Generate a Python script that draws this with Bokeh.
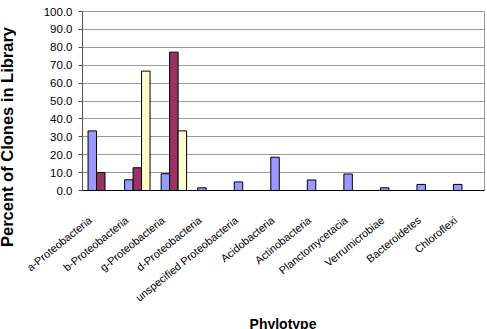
from math import radians

import numpy as np
from bokeh.embed import file_html
from bokeh.resources import INLINE
from bokeh.plotting import figure
from bokeh.layouts import row, column
from bokeh.models import (ColumnDataSource, Range1d, FixedTicker,
                          NumeralTickFormatter, Div)
from bokeh.transform import dodge

# Phylotype categories and percent of clones per library
phylotypes = ["a-Proteobacteria", "b-Proteobacteria", "g-Proteobacteria",
              "d-Proteobacteria", "unspecified Proteobacteria", "Acidobacteria",
              "Actinobacteria", "Planctomycetacia", "Verrumicrobiae",
              "Bacteroidetes", "Chloroflexi"]
library_1 = [33.3, 6.0, 9.4, 1.5, 4.8, 18.6, 5.9, 9.2, 1.5, 3.4, 3.4]
library_2 = [10.0, 12.7, 77.3, 0, 0, 0, 0, 0, 0, 0, 0]
library_3 = [0, 66.7, 33.3, 0, 0, 0, 0, 0, 0, 0, 0]
y_ticks = [0, 10, 20, 30, 40, 50, 60, 70, 80, 90, 100]
y_title = "Percent of Clones in Library"
x_title = "Phylotype"

FONT = "Liberation Sans"
W, H = 487, 329
TITLE_W = 16      # strip on the left holding the vertical axis title
TITLE_H = 13      # strip at the bottom holding the horizontal axis title

n = len(phylotypes)
centers = np.arange(n) + 0.5
source = ColumnDataSource(dict(pos=centers, l1=library_1,
                               l2=library_2, l3=library_3))

p = figure(width=W - TITLE_W, height=H - TITLE_H,
           output_backend="svg", toolbar_location=None,
           x_range=Range1d(0, n), y_range=Range1d(0, 100),
           min_border_left=82 - TITLE_W, min_border_right=3,
           min_border_top=11, min_border_bottom=H - TITLE_H - 190)

bw = 0.232
p.vbar(x=dodge("pos", -bw), top="l1", width=bw, source=source,
       fill_color="#9999FF", line_color="black", line_width=1)
p.vbar(x=dodge("pos", 0), top="l2", width=bw, source=source,
       fill_color="#993366", line_color="black", line_width=1)
p.vbar(x=dodge("pos", bw), top="l3", width=bw, source=source,
       fill_color="#FFFFCC", line_color="black", line_width=1)

p.background_fill_color = "white"
p.border_fill_color = "white"
p.outline_line_color = "#9a9a9a"
p.outline_line_width = 1

# y axis
p.yaxis.ticker = FixedTicker(ticks=y_ticks)
p.yaxis.formatter = NumeralTickFormatter(format="0.0")
p.yaxis.major_label_text_font = FONT
p.yaxis.major_label_text_font_size = "11.5px"
p.yaxis.major_label_text_color = "black"
p.yaxis.major_label_standoff = 6
p.yaxis.major_tick_in = 0
p.yaxis.major_tick_out = 4
p.yaxis.minor_tick_line_color = None
p.yaxis.axis_line_color = "#555555"
p.yaxis.major_tick_line_color = "#555555"

# x axis: category names on slanted labels
label_pos = [round(float(c) - 0.29, 2) for c in centers]
p.xaxis.ticker = FixedTicker(ticks=label_pos, minor_ticks=[])
p.xaxis.major_label_overrides = {pos: name for pos, name in zip(label_pos, phylotypes)}
p.xaxis.major_label_orientation = radians(39)
p.xaxis.major_label_text_font = FONT
p.xaxis.major_label_text_font_size = "10.8px"
p.xaxis.major_label_text_color = "black"
p.xaxis.major_label_standoff = 22
p.xaxis.major_tick_line_color = None
p.xaxis.minor_tick_line_color = None
p.xaxis.axis_line_color = "black"

p.xgrid.grid_line_color = None
p.ygrid.grid_line_color = "#9a9a9a"
p.ygrid.ticker = FixedTicker(ticks=y_ticks)

# axis titles, set as html text beside and below the plot
y_html = (
    f'<div style="position:relative;width:{TITLE_W}px;height:{H - TITLE_H}px;'
    f'overflow:hidden;">'
    f'<span style="position:absolute;left:6.8px;top:137px;'
    f'transform:translate(-50%,-50%) rotate(-90deg);white-space:nowrap;'
    f"font-family:'{FONT}';font-weight:bold;font-size:16.5px;line-height:1;"
    f'color:black;">{y_title}</span></div>'
)
x_html = (
    f'<div style="position:relative;width:{W}px;height:{TITLE_H}px;'
    f'overflow:hidden;">'
    f'<span style="position:absolute;left:283px;top:1.2px;'
    f'transform:translateX(-50%);white-space:nowrap;'
    f"font-family:'{FONT}';font-weight:bold;font-size:14px;line-height:1;"
    f'color:black;">{x_title}</span></div>'
)
ydiv = Div(text=y_html, width=TITLE_W, height=H - TITLE_H, margin=0)
xdiv = Div(text=x_html, width=W, height=TITLE_H, margin=0)

layout = column(row(ydiv, p, spacing=0), xdiv, spacing=0)

open("out.html", "w").write(file_html(layout, INLINE))
